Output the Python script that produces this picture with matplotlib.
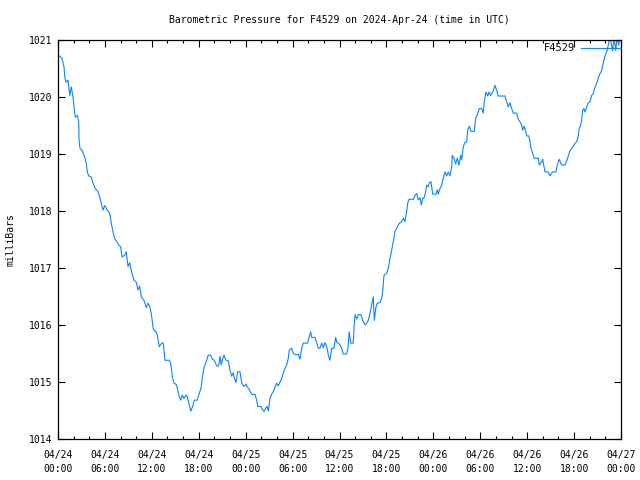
import matplotlib
matplotlib.use("Agg")
import matplotlib.pyplot as plt
from matplotlib.ticker import MultipleLocator, FixedLocator

title = "Barometric Pressure for F4529 on 2024-Apr-24 (time in UTC)"
ylabel = "milliBars"
series_name = "F4529"

# hours since 2024-04-24 00:00 UTC
hours = [0.0, 0.22, 0.51, 0.77, 0.86, 1.02, 1.28, 1.5, 1.7, 1.92, 2.05, 2.21, 2.47, 2.65, 2.69, 2.81,
         3.07, 3.41, 3.62, 3.75, 3.93, 4.26, 4.48, 4.77, 5.12, 5.33, 5.54, 5.75, 5.97, 6.3, 6.61, 6.82,
         7.03, 7.25, 7.46, 7.76, 8.02, 8.18, 8.53, 8.73, 8.95, 9.17, 9.46, 9.72, 10.01, 10.23, 10.45,
         10.65, 11.0, 11.29, 11.51, 11.73, 11.93, 12.19, 12.53, 12.7, 12.95, 13.26, 13.47, 13.68, 14.23,
         14.41, 14.67, 14.83, 15.09, 15.26, 15.51, 15.69, 15.9, 16.11, 16.37, 16.53, 16.79, 16.97, 17.22,
         17.43, 17.81, 18.07, 18.29, 18.5, 18.71, 19.02, 19.22, 19.53, 19.73, 19.99, 20.29, 20.55, 20.72,
         20.88, 21.06, 21.23, 21.48, 21.78, 21.99, 22.21, 22.42, 22.51, 22.76, 22.98, 23.27, 23.49, 23.79,
         24.04, 24.21, 24.46, 24.77, 25.19, 25.41, 25.54, 25.96, 26.13, 26.34, 26.56, 26.73, 26.89, 27.11,
         27.33, 27.53, 27.75, 27.97, 28.17, 28.39, 28.61, 28.81, 29.03, 29.25, 29.45, 29.58, 29.88, 30.09,
         30.31, 30.73, 30.95, 31.16, 31.37, 31.93, 32.14, 32.32, 32.44, 32.86, 33.08, 33.29, 33.5, 33.72,
         33.93, 34.14, 34.36, 34.57, 34.78, 35.0, 35.29, 35.51, 35.64, 35.84, 36.06, 36.28, 36.48, 36.92,
         37.08, 37.25, 37.43, 37.76, 37.85, 37.98, 38.2, 38.4, 38.75, 38.96, 39.26, 39.48, 39.68, 39.9,
         40.12, 40.32, 40.45, 40.63, 40.83, 41.18, 41.39, 41.52, 41.69, 42.03, 42.24, 42.46, 42.67, 42.88,
         43.09, 43.31, 43.52, 43.73, 43.95, 44.16, 44.37, 44.59, 44.72, 44.88, 45.44, 45.65, 45.87, 46.07,
         46.29, 46.46, 46.64, 46.8, 47.02, 47.15, 47.35, 47.48, 47.7, 47.79, 47.92, 48.34, 48.5, 48.63,
         48.85, 49.07, 49.27, 49.49, 49.71, 49.91, 50.13, 50.35, 50.42, 50.64, 50.86, 51.06, 51.28, 51.5,
         51.62, 51.83, 52.05, 52.26, 52.39, 52.6, 52.81, 53.24, 53.41, 53.67, 53.88, 54.18, 54.39, 54.51,
         54.73, 54.95, 55.12, 55.33, 55.46, 55.67, 55.88, 56.1, 56.3, 57.16, 57.38, 57.58, 57.8, 58.02,
         58.22, 58.66, 58.86, 59.08, 59.3, 59.42, 59.63, 59.81, 59.94, 60.23, 60.36, 60.49, 60.7, 60.91,
         61.42, 61.55, 61.85, 61.98, 62.15, 62.28, 62.7, 62.92, 63.13, 63.26, 63.68, 63.85, 64.1, 64.28,
         64.41, 64.83, 65.05, 65.26, 65.47, 65.69, 65.9, 66.11, 66.33, 66.53, 66.66, 66.84, 66.97, 67.1,
         67.26, 67.39, 67.61, 67.81, 68.03, 68.25, 68.45, 68.67, 68.89, 69.09, 69.31, 69.53, 69.74, 69.95,
         70.17, 70.37, 70.59, 70.81, 70.94, 71.1, 71.32, 71.52, 71.7, 71.87]

pressure = [1020.71, 1020.71, 1020.67, 1020.52, 1020.35, 1020.25, 1020.29, 1020.02, 1020.17, 1019.99,
            1019.82, 1019.64, 1019.67, 1019.56, 1019.24, 1019.09, 1019.06, 1018.94, 1018.83, 1018.68,
            1018.61, 1018.59, 1018.48, 1018.39, 1018.33, 1018.24, 1018.13, 1018.01, 1018.09, 1018.01,
            1017.96, 1017.78, 1017.63, 1017.51, 1017.47, 1017.40, 1017.37, 1017.19, 1017.22, 1017.28,
            1017.02, 1017.09, 1016.90, 1016.78, 1016.75, 1016.61, 1016.68, 1016.49, 1016.43, 1016.30,
            1016.38, 1016.32, 1016.20, 1015.92, 1015.88, 1015.82, 1015.62, 1015.68, 1015.68, 1015.38,
            1015.38, 1015.33, 1015.06, 1014.98, 1014.96, 1014.89, 1014.74, 1014.68, 1014.77, 1014.71,
            1014.77, 1014.74, 1014.60, 1014.49, 1014.57, 1014.68, 1014.68, 1014.80, 1014.89, 1015.12,
            1015.27, 1015.38, 1015.47, 1015.47, 1015.40, 1015.38, 1015.28, 1015.28, 1015.45, 1015.30,
            1015.41, 1015.47, 1015.38, 1015.37, 1015.21, 1015.10, 1015.16, 1015.09, 1014.99, 1015.18,
            1015.18, 1014.98, 1014.92, 1014.96, 1014.91, 1014.87, 1014.78, 1014.78, 1014.68, 1014.57,
            1014.57, 1014.52, 1014.48, 1014.54, 1014.57, 1014.49, 1014.71, 1014.79, 1014.83, 1014.91,
            1014.98, 1014.93, 1015.00, 1015.06, 1015.15, 1015.24, 1015.30, 1015.41, 1015.56, 1015.59,
            1015.50, 1015.48, 1015.48, 1015.40, 1015.59, 1015.68, 1015.68, 1015.80, 1015.88, 1015.78,
            1015.78, 1015.69, 1015.59, 1015.59, 1015.68, 1015.60, 1015.69, 1015.62, 1015.47, 1015.38,
            1015.59, 1015.59, 1015.78, 1015.70, 1015.68, 1015.65, 1015.59, 1015.49, 1015.49, 1015.59,
            1015.88, 1015.68, 1015.68, 1015.94, 1016.18, 1016.10, 1016.18, 1016.18, 1016.08, 1016.00,
            1016.03, 1016.08, 1016.20, 1016.35, 1016.49, 1016.08, 1016.29, 1016.38, 1016.39, 1016.46,
            1016.58, 1016.87, 1016.90, 1016.99, 1017.16, 1017.31, 1017.46, 1017.63, 1017.69, 1017.75,
            1017.79, 1017.81, 1017.87, 1017.81, 1017.98, 1018.13, 1018.20, 1018.20, 1018.27, 1018.30,
            1018.19, 1018.23, 1018.10, 1018.22, 1018.22, 1018.33, 1018.45, 1018.42, 1018.49, 1018.51,
            1018.42, 1018.29, 1018.29, 1018.37, 1018.29, 1018.39, 1018.45, 1018.57, 1018.68, 1018.61,
            1018.68, 1018.61, 1018.77, 1018.97, 1018.92, 1018.82, 1018.92, 1018.80, 1018.97, 1018.89,
            1019.12, 1019.20, 1019.20, 1019.41, 1019.48, 1019.39, 1019.39, 1019.62, 1019.70, 1019.79,
            1019.79, 1019.71, 1019.91, 1020.08, 1020.01, 1020.08, 1020.02, 1020.05, 1020.10, 1020.20,
            1020.11, 1020.01, 1020.01, 1019.91, 1019.82, 1019.89, 1019.79, 1019.71, 1019.71, 1019.60,
            1019.56, 1019.50, 1019.41, 1019.48, 1019.39, 1019.31, 1019.31, 1019.21, 1019.09, 1019.01,
            1018.92, 1018.92, 1018.80, 1018.86, 1018.90, 1018.77, 1018.68, 1018.68, 1018.61, 1018.66,
            1018.68, 1018.68, 1018.80, 1018.90, 1018.84, 1018.80, 1018.80, 1018.87, 1018.96, 1019.05,
            1019.09, 1019.13, 1019.18, 1019.21, 1019.31, 1019.44, 1019.50, 1019.59, 1019.76, 1019.79,
            1019.73, 1019.82, 1019.89, 1019.91, 1020.02, 1020.05, 1020.16, 1020.23, 1020.32, 1020.40,
            1020.46, 1020.59, 1020.71, 1020.78, 1020.90, 1021.05, 1020.88, 1020.80, 1021.05, 1020.81,
            1021.05, 1020.90, 1021.05]

xtick_hours = [0, 6, 12, 18, 24, 30, 36, 42, 48, 54, 60, 66, 72]
xtick_labels = ["04/24\n00:00", "04/24\n06:00", "04/24\n12:00", "04/24\n18:00",
                "04/25\n00:00", "04/25\n06:00", "04/25\n12:00", "04/25\n18:00",
                "04/26\n00:00", "04/26\n06:00", "04/26\n12:00", "04/26\n18:00",
                "04/27\n00:00"]
ytick_values = [1014, 1015, 1016, 1017, 1018, 1019, 1020, 1021]

plt.rcParams['font.family'] = ['DejaVu Sans Mono']
plt.rcParams['font.size'] = 7

fig = plt.figure(figsize=(6.4, 4.8), dpi=100)
ax = fig.add_axes([58/640, 1 - 439/480, (621 - 58)/640, (439 - 39.5)/480])

ax.plot(hours, pressure, color='#0a84ff', linewidth=0.8, label=series_name)

ax.set_xlim(0, 72)
ax.set_ylim(1014, 1021)
ax.xaxis.set_major_locator(FixedLocator(xtick_hours))
ax.set_xticklabels(xtick_labels, linespacing=1.45)
ax.xaxis.set_minor_locator(MultipleLocator(2))
ax.yaxis.set_major_locator(FixedLocator(ytick_values))
ax.set_yticklabels([str(v) for v in ytick_values])

ax.tick_params(which='both', direction='in', top=True, right=True, width=0.8, colors='black')
ax.tick_params(which='major', length=5, pad=4)
ax.tick_params(which='minor', length=2.5)
ax.tick_params(axis='x', which='major', pad=8)
for s in ax.spines.values():
    s.set_linewidth(0.9)

ax.set_ylabel(ylabel, labelpad=10)
ax.set_title(title, pad=12, fontsize=7)

leg = ax.legend(loc='upper right', bbox_to_anchor=(1.0, 0.99), frameon=False, markerfirst=False,
                handlelength=3.8, handletextpad=0.6, borderaxespad=0.0, borderpad=0.0,
                fontsize=7.5)

fig.savefig("out.png", dpi=100)
